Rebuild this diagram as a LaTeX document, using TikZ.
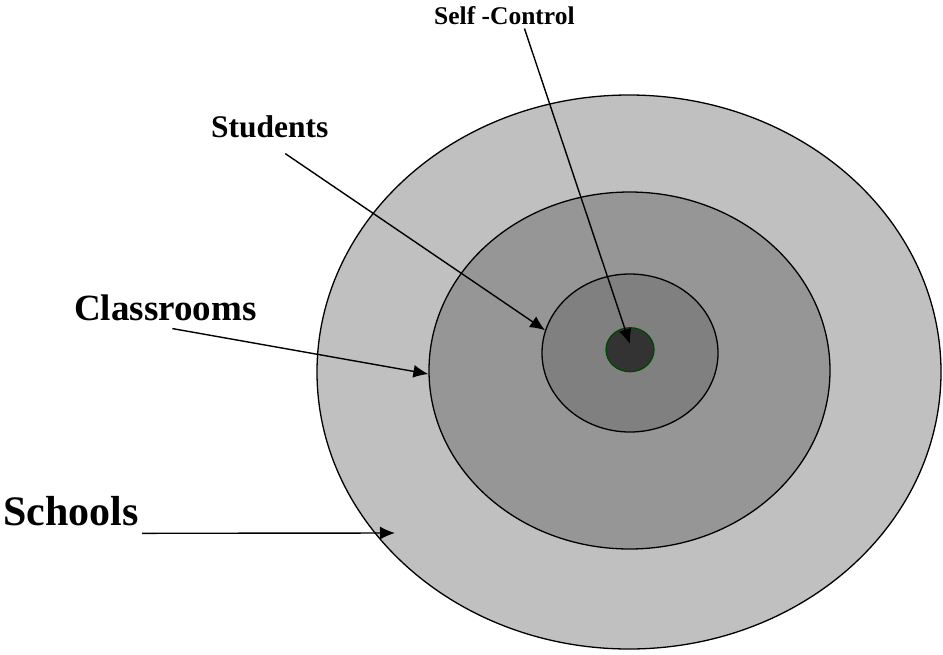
\documentclass[tikz,border=0pt]{standalone}
\usepackage{fontspec}
\setmainfont{Liberation Serif}
\usetikzlibrary{shapes.geometric, arrows.meta, positioning}
\definecolor{ringouter}{RGB}{192,192,192}
\definecolor{ringmid}{RGB}{150,150,150}
\definecolor{ringinner}{RGB}{128,128,128}
\definecolor{ringcore}{RGB}{51,51,51}
\definecolor{coregreen}{RGB}{0,70,0}
\tikzset{
	ring/.style={draw, ellipse, inner sep=0pt, line width=1.3pt},
	% labels sit on their baseline, left aligned
	lbl/.style={inner sep=0pt, anchor=base west},
}

\begin{document}
\begin{tikzpicture}[x=1pt, y=-1pt]
				\useasboundingbox (0,0) rectangle (943,654);
				
				% rings, outside in
				\node (rschools) [ring, fill=ringouter, minimum width=624pt, minimum height=554pt] at (629,372) {};
				\node (rclass) [ring, fill=ringmid, minimum width=401pt, minimum height=357pt] at (629.5,370.5) {};
				\node (rstud) [ring, fill=ringinner, minimum width=176pt, minimum height=158pt] at (630,353) {};
				\node (rcore) [ring, fill=ringcore, draw=coregreen, minimum width=48pt, minimum height=44pt] at (630,349.7) {};
				
				% labels
				\node (selfctrl) [lbl, font={\fontsize{25.5}{30}\selectfont\bfseries}] at (434,24) {Self -Control};
				\node (students) [lbl, font={\fontsize{31.5}{36}\selectfont\bfseries}] at (211,137) {Students};
				\node (classrooms) [lbl, font={\fontsize{37}{42}\selectfont\bfseries}] at (74,320) {Classrooms};
				\node (schools) [lbl, font={\fontsize{42}{48}\selectfont\bfseries}] at (3,525) {Schools};
				
				\coordinate (schoolsT) at (395,533);
				
				\begin{scope}[line width=1.4pt, black, ->, >={Latex[length=15pt, width=13pt]}]
					\draw ([xshift=20pt, yshift=-4pt]selfctrl.south) -- ([yshift=5.7pt]rcore.center);
					\draw ([xshift=15.4pt, yshift=-16pt]students.south) -- (rstud.165);
					\draw ([xshift=7pt, yshift=-8pt]classrooms.south) -- (rclass.181);
					\draw ([xshift=3.3pt, yshift=-7.7pt]schools.south east) -- (schoolsT);
				\end{scope}
			\end{tikzpicture}
\end{document}
